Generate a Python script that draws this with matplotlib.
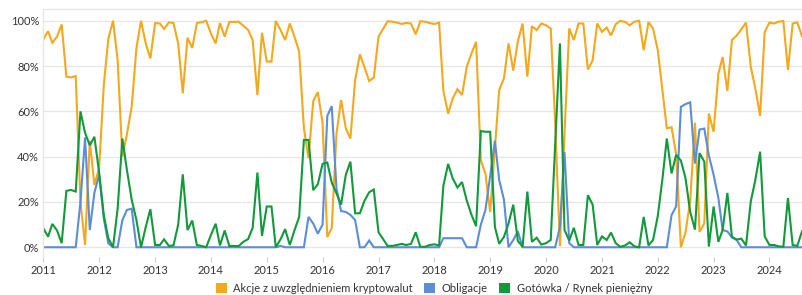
import matplotlib
matplotlib.use("Agg")
import matplotlib.pyplot as plt
from matplotlib.patches import Patch
import pandas as pd

plt.rcParams['font.family'] = ['Lato', 'DejaVu Sans']

start_month = "2011-01-01"
series_names = ["Akcje z uwzględnieniem kryptowalut", "Obligacje", "Gotówka / Rynek pieniężny"]
colors = ["#F4A81D", "#5B8ED6", "#12993B"]

akcje = [
    91.8, 95.4, 90.3, 93, 98.4, 75.3, 75, 75.6, 20, 1, 47, 27.5,
    35, 72, 92, 100, 82.6, 40, 50, 62, 88, 100, 90, 83.4,
    99, 98.8, 96.4, 99.3, 99, 90, 68, 92.5, 88, 99, 99.4, 100,
    94.4, 90, 99, 93, 99.5, 99.5, 99.6, 97.8, 96, 91.5, 67.2, 94.7,
    82, 82, 99.9, 96, 91.5, 98.8, 93, 86.3, 52.6, 39.3, 64.5, 68.5,
    55, 4.5, 8.5, 50, 65, 52.5, 48, 73.8, 85.2, 79.5, 73.4, 74.9,
    93, 96.5, 99.8, 99.6, 99.2, 98.6, 99, 98.8, 94, 99.8, 99.6, 99,
    98.6, 99.2, 69, 59, 65.7, 69.8, 67.2, 79.7, 85.6, 90.7, 38.5, 32.4,
    15.6, 44, 69.4, 74.6, 90, 78, 91, 98.8, 75.3, 97.6, 95.9, 98.8,
    98, 96.6, 55, 0.5, 50, 96.6, 91.5, 98.8, 98.8, 78.5, 82.5, 98.8,
    95.1, 97, 93.5, 98.5, 100, 99.5, 98, 99.6, 100, 87, 99.4, 96.6,
    87, 69, 52.5, 53, 41, 0, 6.5, 20.5, 55, 6.8, 10.5, 59,
    51, 76.5, 84, 69, 91.5, 93.5, 96.2, 99.2, 79.7, 70, 58, 95,
    99.2, 98.8, 99.6, 99.9, 78.3, 98.8, 99.3, 93.2,
]

obligacje = [
    0, 0, 0, 0, 0, 0, 0, 0, 20, 48.5, 7.6, 24,
    32, 12.5, 1.8, 0, 0, 12, 16.5, 17, 0, 0, 0, 0,
    0, 0, 0, 0, 0, 0, 0, 0, 0, 0, 0, 0,
    0, 0, 0, 0, 0, 0, 0, 0, 0, 0, 0, 0,
    0, 0, 0, 0.6, 0, 0, 0, 0, 0, 13.4, 10.5, 6,
    10, 58, 62.3, 26, 16, 15.6, 14.3, 12, 0, 0, 3, 0,
    0, 0, 0, 0, 0, 0, 0, 0, 0, 0, 0, 0,
    0, 0, 4, 4, 4, 4, 4, 0, 0, 0, 10, 16.5,
    31.5, 47, 29.7, 21, 0, 3.2, 7, 0, 0, 0, 0, 0,
    0, 0, 0, 9, 42, 1.8, 0, 0, 0, 0, 0, 0,
    0, 0, 0, 0, 0, 0, 0, 0, 0, 0, 0, 0,
    0, 0, 0, 14.2, 18, 62, 63.2, 64, 37, 52, 52.4, 40.5,
    32, 21.8, 7.6, 7, 4.3, 3.2, 0, 0, 0, 0, 0, 0,
    0, 0, 0, 0, 0, 0, 0, 0,
]

gotowka = [
    8.4, 4.7, 10.3, 7.4, 1.8, 24.9, 25.3, 24.6, 60, 50.5, 45, 48.8,
    33, 14, 4, 0, 17, 48, 34, 21, 12, 0, 9, 16.8,
    1, 1, 3.5, 0.6, 0.8, 10, 32.2, 7.6, 11.8, 1, 0.6, 0,
    5.4, 10.4, 0.8, 7.4, 0.6, 0.6, 0.5, 2.4, 3.6, 8.6, 33, 5,
    18, 18, 0, 3.5, 8, 1, 7.4, 13.4, 47.4, 47.4, 25.2, 27.8,
    36.8, 37.4, 28.6, 23.8, 18.8, 32, 37.8, 15, 15, 20.5, 24.3, 25.5,
    6.6, 3.5, 0.6, 0.6, 1, 1.5, 1, 1.5, 6.6, 0.2, 0.2, 1,
    1.3, 0.8, 27.2, 36.8, 30.4, 26.4, 28.8, 20.6, 14.3, 9.3, 51.3, 51,
    51, 9, 1.5, 4.6, 10.5, 18.8, 2.8, 0.2, 24.6, 2.4, 4.2, 1.2,
    1.8, 3.2, 45, 90, 7.6, 3, 8.6, 1, 1, 23, 18.8, 1,
    4.8, 3.2, 6.5, 1.8, 0.2, 0.8, 2.2, 0.4, 0, 13.4, 0.8, 3.2,
    13.8, 30.5, 48, 32.6, 40.8, 38.3, 30.6, 15.6, 7.8, 41.6, 37.8, 0.3,
    18, 2.4, 7.6, 24, 4.6, 3.4, 3.8, 0.8, 20.2, 29.8, 42.2, 4.8,
    1, 1, 0.4, 0.2, 21.7, 1, 0.6, 7,
]

y_ticks = [0, 20, 40, 60, 80, 100]
y_tick_labels = ["0%", "20%", "40%", "60%", "80%", "100%"]
year_ticks = list(range(2011, 2025))

dates = pd.date_range(start_month, periods=len(akcje), freq="MS")

W, H = 802, 295
fig = plt.figure(figsize=(W / 100, H / 100), dpi=100)
left_px, right_px, top_px, bottom_px = 43.3, 802, 9, 257
ax = fig.add_axes([left_px / W, 1 - bottom_px / H, (right_px - left_px) / W, (bottom_px - top_px) / H])

for vals, c, name in zip([akcje, obligacje, gotowka], colors, series_names):
    ax.plot(dates, vals, color=c, lw=1.5, label=name, solid_joinstyle="miter")

ax.set_ylim(-4.3, 105.2)
ax.set_xlim(dates[0], dates[-1])
ax.set_yticks(y_ticks)
ax.set_yticklabels(y_tick_labels)
ax.set_xticks([pd.Timestamp(f"{y}-01-01") for y in year_ticks])
ax.set_xticklabels([str(y) for y in year_ticks])

ax.grid(axis="y", color="#e6e6e6", lw=0.9)
ax.set_axisbelow(True)
for s in ["right", "bottom"]:
    ax.spines[s].set_visible(False)
for s in ["top", "left"]:
    ax.spines[s].set_color("#e6e6e6")
    ax.spines[s].set_linewidth(0.9)

ax.tick_params(axis="y", length=0, pad=3, labelsize=8, labelcolor="#333333")
ax.tick_params(axis="x", length=3.5, width=0.8, color="#cccccc", pad=2, labelsize=8, labelcolor="#333333")

handles = [Patch(facecolor=c, edgecolor="none") for c in colors]
fig.legend(handles, series_names, loc="center", bbox_to_anchor=(434 / W, 1 - 288 / H),
           ncol=3, frameon=False, fontsize=8, handlelength=1.0, handleheight=1.0,
           handletextpad=0.6, columnspacing=1.0, labelcolor="#333333")

fig.savefig("out.png", dpi=100)
